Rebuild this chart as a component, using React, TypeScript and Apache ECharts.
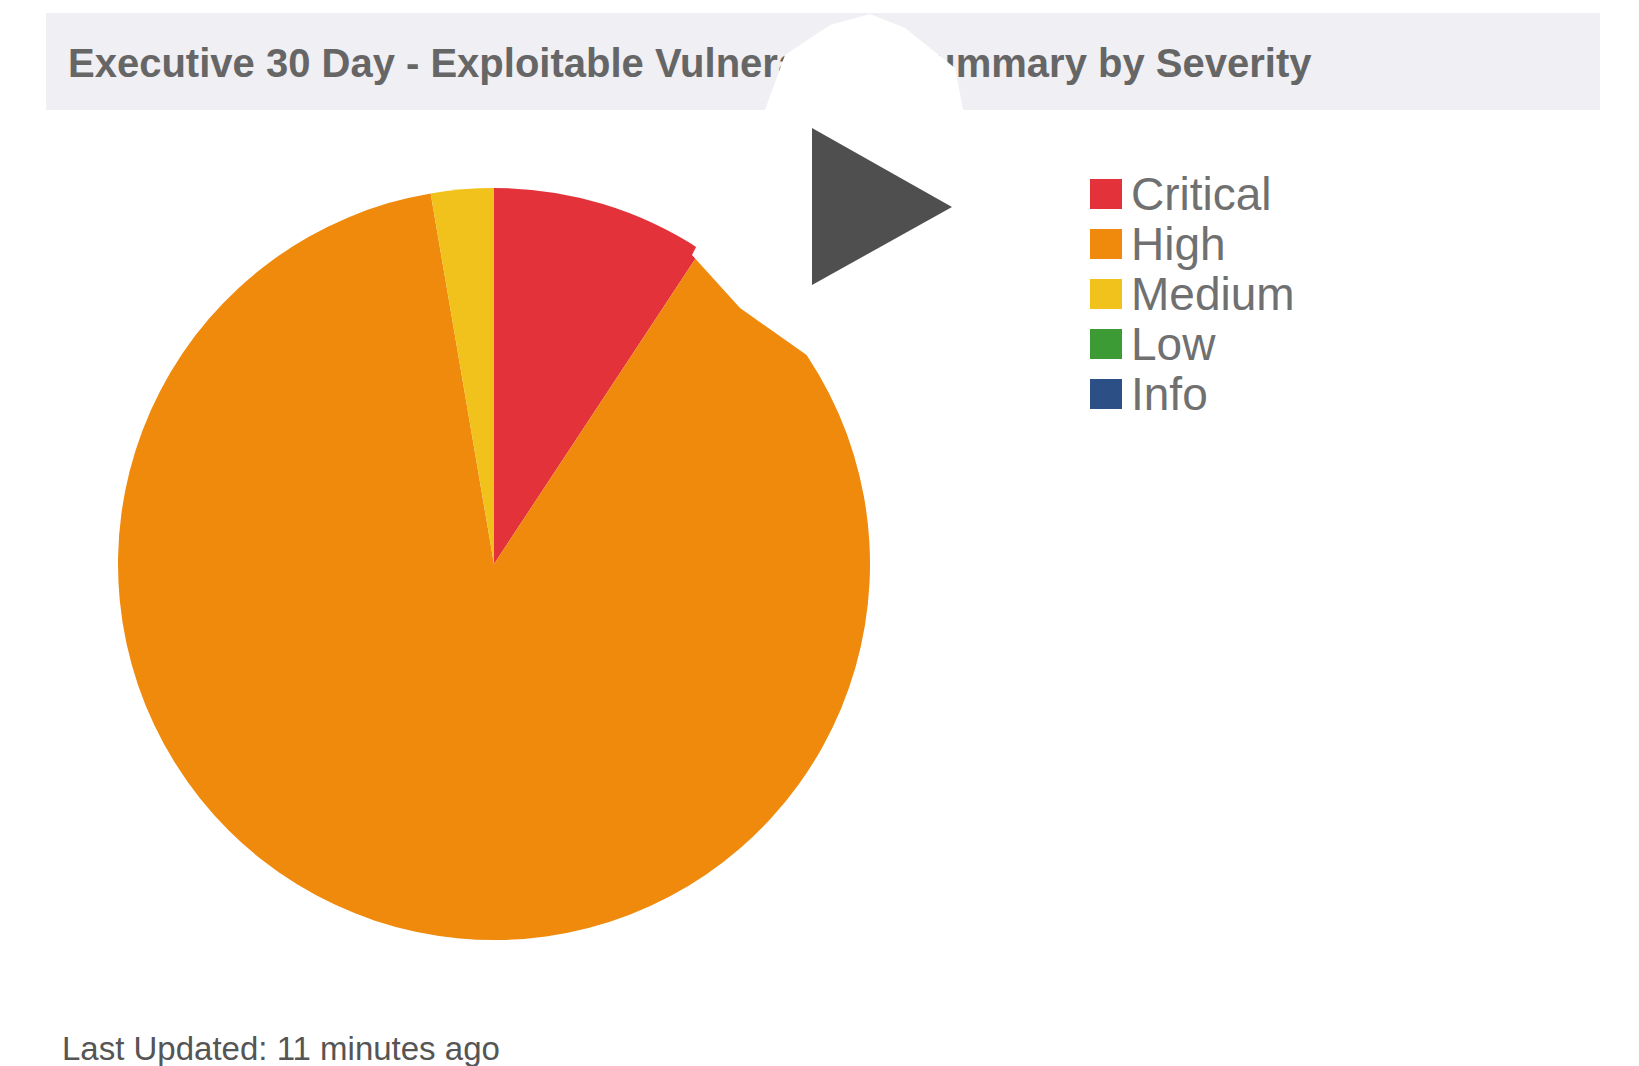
import React, { useEffect, useRef } from "react";
import * as echarts from "echarts";

const titleText = "Executive 30 Day - Exploitable Vulnerability Summary by Severity";
const footerText = "Last Updated: 11 minutes ago";
const severities = ["Critical", "High", "Medium", "Low", "Info"];
const counts = [31, 294, 9, 0, 0];
const colors = ["#e4323b", "#ef8a0c", "#f1c21b", "#3d9b35", "#2c4f86"];

export default function App() {
  const ref = useRef<HTMLDivElement>(null);
  useEffect(() => {
    document.body.style.margin = "0";
    const chart = echarts.init(ref.current!, null, { renderer: "svg" });
    chart.setOption({
      animation: false,
      backgroundColor: "#ffffff",
      color: colors,
      legend: {
        orient: "vertical",
        left: 1085,
        top: 166,
        icon: "rect",
        itemWidth: 32,
        itemHeight: 30,
        itemGap: 4,
        selectedMode: false,
        textStyle: { fontSize: 46, color: "#707070", fontFamily: "Liberation Sans", padding: [0, 0, 0, 4] },
        data: severities,
      },
      graphic: [
        { type: "rect", z: 0, shape: { x: 46, y: 13, width: 1554, height: 97 }, style: { fill: "#f0eff3" } },
        {
          type: "text", z: 1, x: 68, y: 63,
          style: { text: titleText, fill: "#666666", fontSize: 40, fontFamily: "Liberation Sans", fontWeight: "bold", verticalAlign: "middle" },
        },
        {
          type: "text", z: 1, x: 62, y: 1048,
          style: { text: footerText, fill: "#555555", fontSize: 33, fontFamily: "Liberation Sans", verticalAlign: "middle" },
        },
        {
          type: "polygon", z: 100,
          shape: { points: [[870, 14], [905, 28], [955, 68], [965, 120], [965, 200], [910, 320], [845, 385], [825, 368], [740, 308], [692, 255], [720, 200], [765, 110], [785, 55], [830, 25]] },
          style: { fill: "#ffffff" },
        },
        {
          type: "polygon", z: 101,
          shape: { points: [[812, 128], [812, 285], [952, 207]] },
          style: { fill: "#4f4f4f" },
        },
      ],
      series: [
        {
          type: "pie",
          center: [494, 564],
          radius: 376,
          startAngle: 90,
          clockwise: true,
          label: { show: false },
          labelLine: { show: false },
          emphasis: { disabled: true },
          itemStyle: { borderWidth: 0 },
          data: severities.map((n, i) => ({ name: n, value: counts[i] })),
        },
      ],
    });
    return () => chart.dispose();
  }, []);
  return <div ref={ref} style={{ width: 1639, height: 1066 }} />;
}
